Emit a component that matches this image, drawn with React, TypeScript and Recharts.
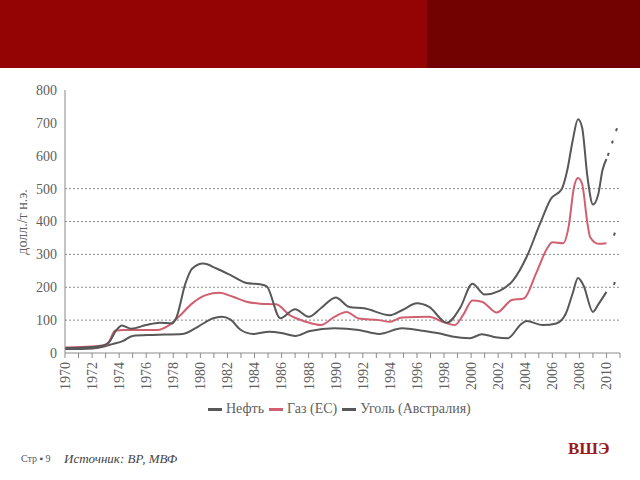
import { LineChart, Line, XAxis, YAxis, ReferenceLine } from "recharts";

// Нефть
const oilYears = [1970, 1971, 1972, 1972.8, 1973.3, 1973.8, 1974.2, 1974.9, 1976, 1977, 1977.9, 1978.2, 1978.9, 1979.4, 1980.2, 1981.2, 1982.4, 1983.4, 1984.4, 1984.9, 1985.9, 1987, 1988, 1988.9, 1990, 1991, 1992.1, 1994, 1994.9, 1996, 1996.9, 1998.2, 1999.2, 2000.1, 2001, 2002.1, 2003.1, 2004.1, 2005.1, 2005.9, 2006.7, 2007.1, 2007.5, 2007.9, 2008.2, 2008.6, 2009.0, 2009.4, 2009.7, 2010.0];
const oilValues = [15, 16, 18, 22, 35, 70, 84, 74, 85, 92, 90, 105, 212, 257, 272, 257, 233, 213, 209, 203, 106, 133, 110, 136, 169, 140, 136, 115, 130, 151, 140, 92, 138, 211, 178, 189, 221, 292, 394, 469, 499, 555, 645, 711, 686, 534, 452, 484, 555, 590];

// Газ (ЕС)
const gasYears = [1970, 1972, 1973.1, 1973.7, 1974.3, 1976.8, 1977.7, 1978.4, 1979.4, 1980.4, 1981.4, 1982.4, 1983.4, 1984.4, 1985.6, 1986.6, 1987.8, 1988.9, 1989.9, 1990.8, 1991.7, 1993.2, 1994, 1994.9, 1996.9, 1997.9, 1998.8, 1999.4, 2000.1, 2000.8, 2001.9, 2003, 2003.9, 2004.8, 2005.6, 2006, 2006.8, 2007.2, 2007.6, 2007.9, 2008.2, 2008.6, 2008.8, 2009.4, 2010.0];
const gasValues = [17, 20, 25, 68, 70, 70, 85, 110, 151, 176, 183, 171, 156, 150, 148, 115, 95, 85, 110, 125, 105, 100, 95, 108, 110, 95, 85, 115, 160, 156, 123, 161, 166, 242, 317, 337, 334, 383, 504, 532, 514, 393, 352, 332, 334];

// Уголь (Австралия)
const coalYears = [1970, 1972, 1972.8, 1973.5, 1974.3, 1975, 1976.5, 1978.7, 1979.9, 1980.9, 1981.6, 1982.2, 1983, 1983.9, 1985.1, 1986.1, 1987, 1988.1, 1989.9, 1991.7, 1993.2, 1994.9, 1996.4, 1997.6, 1998.6, 1999.9, 2000.8, 2001.8, 2002.7, 2003.7, 2004.1, 2005.3, 2006.3, 2007.0, 2007.5, 2007.9, 2008.3, 2009.0, 2009.4, 2010.0];
const coalValues = [12, 14, 19, 27, 37, 52, 55, 58, 82, 105, 110, 102, 70, 58, 65, 60, 52, 67, 75, 70, 58, 75, 68, 60, 50, 45, 57, 48, 45, 88, 97, 85, 90, 120, 181, 228, 206, 125, 148, 186];

// прогноз (пунктир)
const oilForecastYears = [2010.1, 2010.95];
const oilForecastValues = [600, 705];
const gasForecastYears = [2010.55, 2010.62];
const gasForecastValues = [357, 366];
const coalForecastYears = [2010.55, 2010.62];
const coalForecastValues = [207, 216];

const yTicks = [0, 100, 200, 300, 400, 500, 600, 700, 800];
const gridValues = [100, 200, 300, 400, 500];
const xTicks = Array.from({ length: 42 }, (_, i) => 1970 + i);

const toRows = (years: number[], values: number[]) =>
  years.map((year, i) => ({ year, value: values[i] }));

const DARK = "#585858";
const PINK = "#d0606f";
const TEXT = "#606060";
const SERIF = "Liberation Serif, Tinos, Times New Roman, DejaVu Serif, serif";

const YearTick = ({ x, y, payload }: any) => {
  if (payload.value % 2 !== 0) return <g />;
  return (
    <text
      x={x}
      y={y + 2}
      transform={`rotate(-90, ${x}, ${y + 2})`}
      textAnchor="end"
      dy="0.35em"
      fill={TEXT}
      fontSize={14}
      style={{ fontFamily: SERIF }}
    >
      {payload.value}
    </text>
  );
};

const YValueTick = ({ x, y, payload }: any) => (
  <text x={x} y={y} textAnchor="end" dy="0.35em" fill={TEXT} fontSize={14} style={{ fontFamily: SERIF }}>
    {payload.value}
  </text>
);

const legendItems = [
  { name: "Нефть", color: DARK },
  { name: "Газ (ЕС)", color: PINK },
  { name: "Уголь (Австралия)", color: DARK },
];

export default function App() {
  return (
    <div style={{ position: "fixed", left: 0, top: 0, width: 640, height: 480, background: "#fff", fontFamily: SERIF, overflow: "hidden" }}>
      <div style={{ position: "absolute", left: 0, top: 0, width: 427, height: 68, background: "#950404" }} />
      <div style={{ position: "absolute", left: 427, top: 0, width: 213, height: 68, background: "#720101" }} />

      <LineChart
        width={640}
        height={480}
        margin={{ top: 90, right: 20, left: 0, bottom: 0 }}
        style={{ position: "absolute", left: 0, top: 0, fontFamily: SERIF }}
      >
        <XAxis
          type="number"
          dataKey="year"
          domain={[1970, 2011]}
          ticks={xTicks}
          interval={0}
          allowDataOverflow
          height={127}
          tickSize={5}
          tickMargin={2}
          tick={(p: any) => <YearTick {...p} />}
          tickLine={{ stroke: "#8a8a8a" }}
          axisLine={{ stroke: "#8a8a8a" }}
        />
        <YAxis
          domain={[0, 800]}
          ticks={yTicks}
          width={65}
          tickLine={false}
          axisLine={{ stroke: "#8a8a8a" }}
          tick={(p: any) => <YValueTick {...p} />}
        />
        {gridValues.map((v) => (
          <ReferenceLine key={v} y={v} stroke="#8a8a8a" strokeDasharray="2 2" strokeWidth={1} />
        ))}
        <Line data={toRows(coalYears, coalValues)} dataKey="value" type="monotone" stroke={DARK} strokeWidth={2} dot={false} isAnimationActive={false} />
        <Line data={toRows(gasYears, gasValues)} dataKey="value" type="monotone" stroke={PINK} strokeWidth={2} dot={false} isAnimationActive={false} />
        <Line data={toRows(oilYears, oilValues)} dataKey="value" type="monotone" stroke={DARK} strokeWidth={2} dot={false} isAnimationActive={false} />
        <Line data={toRows(oilForecastYears, oilForecastValues)} dataKey="value" type="linear" stroke={DARK} strokeWidth={2} strokeDasharray="3 10" dot={false} isAnimationActive={false} />
        <Line data={toRows(gasForecastYears, gasForecastValues)} dataKey="value" type="linear" stroke={DARK} strokeWidth={2} dot={false} isAnimationActive={false} />
        <Line data={toRows(coalForecastYears, coalForecastValues)} dataKey="value" type="linear" stroke={DARK} strokeWidth={2} dot={false} isAnimationActive={false} />
      </LineChart>

      <div
        style={{
          position: "absolute",
          left: 23,
          top: 222,
          transform: "translate(-50%, -50%) rotate(-90deg)",
          whiteSpace: "nowrap",
          fontSize: 14,
          color: TEXT,
        }}
      >
        долл./т н.э.
      </div>

      <div style={{ position: "absolute", left: 208, top: 401, display: "flex", alignItems: "center", fontSize: 14, color: TEXT, whiteSpace: "nowrap" }}>
        {legendItems.map((item) => (
          <div key={item.name} style={{ display: "flex", alignItems: "center", marginRight: 5 }}>
            <span style={{ display: "inline-block", width: 14, height: 3, background: item.color, marginRight: 4 }} />
            <span>{item.name}</span>
          </div>
        ))}
      </div>

      <div style={{ position: "absolute", left: 21, top: 453, fontSize: 10, color: "#555" }}>Стр ▪ 9</div>
      <div style={{ position: "absolute", left: 64, top: 451, fontSize: 13, fontStyle: "italic", color: "#444" }}>Источник: ВР, МВФ</div>
      <div style={{ position: "absolute", left: 568, top: 439, fontSize: 17, fontWeight: "bold", color: "#9b1b1b" }}>ВШЭ</div>
    </div>
  );
}
